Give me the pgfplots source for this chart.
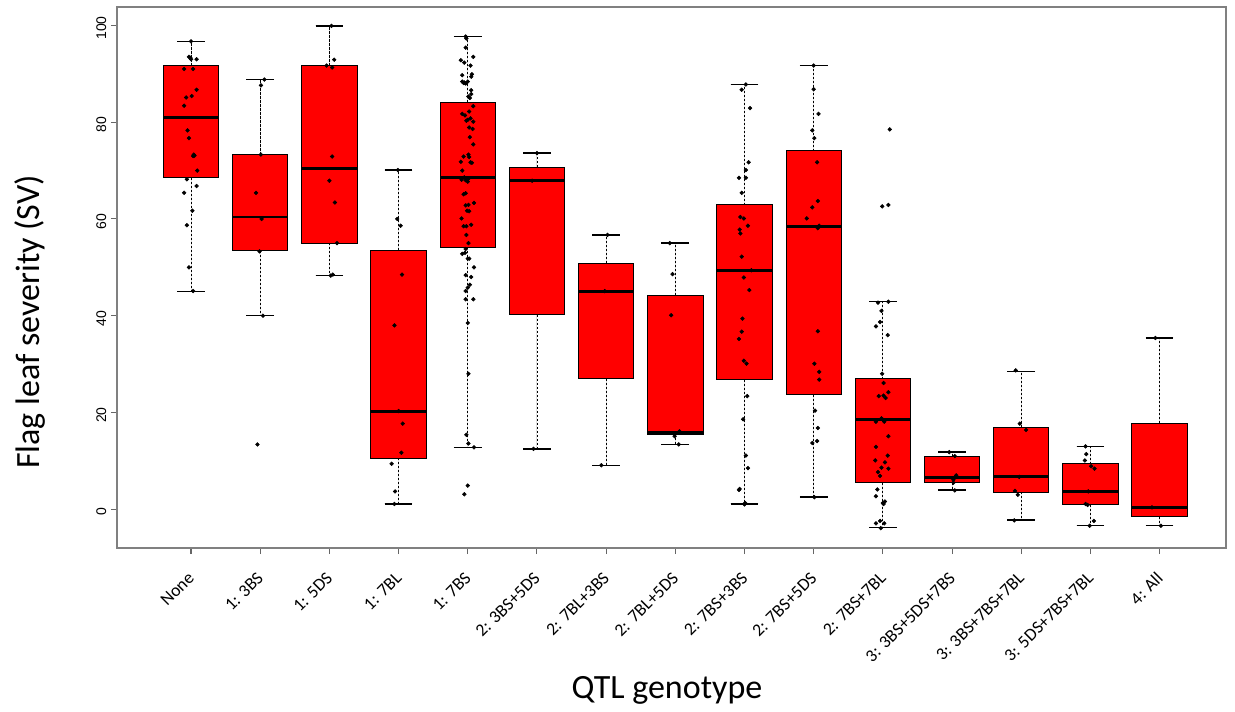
\documentclass[border=0pt]{standalone}
\usepackage{pgfplots}
\pgfplotsset{compat=1.18}
\usepgfplotslibrary{statistics}
\usepackage{pgfplotstable}
\usepackage{fontspec}
\setmainfont{Carlito}
\newfontfamily\arialfont{Liberation Sans}

% Individual lines: x = genotype position + horizontal jitter, y = severity
\pgfplotstableread{
x y
% None
0.00 96.7
-0.03 93.5
-0.01 93.3
0.00 93.0
0.08 93.0
-0.10 91.0
0.03 91.0
0.08 86.7
-0.07 85.1
0.01 85.4
-0.10 83.4
-0.05 78.3
-0.03 76.7
0.04 73.3
0.05 73.1
0.03 73.0
0.09 70.0
-0.06 68.2
0.08 66.8
-0.10 65.4
0.02 61.7
-0.06 58.7
-0.03 50.0
0.03 45.1
% 1: 3BS
1.06 88.8
1.01 87.6
1.01 73.3
0.94 65.4
1.02 60.0
0.99 53.3
1.04 40.0
0.96 13.4
% 1: 5DS
2.03 99.9
2.07 92.9
1.96 91.7
2.04 91.3
2.04 72.9
2.00 67.9
2.08 63.4
2.11 55.0
2.02 48.3
2.05 48.5
% 1: 7BL
2.99 70.1
2.98 60.0
3.03 58.6
3.05 48.5
2.94 38.0
3.00 20.3
3.06 17.7
3.04 11.7
2.90 9.4
2.95 3.7
2.94 1.1
% 1: 7BS
3.97 97.7
3.98 97.3
3.97 95.4
3.90 92.8
3.95 92.3
4.08 93.5
4.04 91.7
3.92 89.7
4.06 89.9
4.05 89.4
3.92 88.4
3.95 88.2
3.97 88.0
4.00 88.4
3.94 88.1
4.05 86.6
4.05 85.8
4.01 85.3
4.03 85.0
4.08 83.3
3.92 81.7
3.96 81.4
4.02 82.2
3.98 80.3
4.00 80.5
4.04 80.8
4.08 80.1
4.02 78.9
4.07 78.6
4.03 76.9
4.08 75.4
3.94 72.9
4.01 73.3
4.02 72.8
3.90 71.8
4.04 71.7
4.06 71.6
3.92 70.0
3.91 68.1
3.97 68.0
4.00 67.7
4.01 68.3
3.95 68.6
3.94 65.1
3.97 65.3
4.09 63.3
3.97 62.8
4.01 62.9
3.99 61.7
4.02 61.6
3.91 60.1
3.94 58.5
3.98 58.5
4.05 58.8
3.98 56.7
4.01 55.0
3.97 53.8
3.92 52.8
3.96 53.0
4.00 51.8
4.02 51.8
4.09 50.0
3.97 48.4
4.05 48.0
4.03 46.4
3.97 45.1
4.00 45.8
3.97 43.4
4.08 43.4
4.00 38.5
4.01 28.0
3.98 15.4
4.01 13.6
4.09 12.8
4.00 4.9
3.95 3.1
% 2: 3BS+5DS
5.00 73.6
4.93 67.9
4.95 12.5
% 2: 7BL+3BS
6.02 56.7
5.98 45.1
5.93 9.1
% 2: 7BL+5DS
6.92 55.0
6.96 48.6
6.94 40.1
7.06 16.1
6.99 15.1
7.05 13.4
% 2: 7BS+3BS
8.02 87.8
7.96 86.7
8.08 82.9
8.06 71.7
8.02 70.1
7.92 68.5
8.02 68.5
7.96 65.4
7.94 60.4
7.99 60.1
8.05 58.6
7.93 57.8
7.94 57.0
7.96 52.2
8.10 49.4
7.99 47.9
8.07 45.3
7.97 39.4
7.96 36.7
7.92 35.2
7.99 30.7
8.03 30.1
8.04 23.4
7.98 18.6
8.02 11.1
8.05 8.5
7.92 4.0
7.93 4.2
8.00 1.0
8.01 1.3
% 2: 7BS+5DS
9.00 91.7
9.00 86.8
9.07 81.7
8.98 78.3
9.01 76.7
9.05 71.7
9.06 63.7
8.98 62.4
8.90 60.1
9.08 58.6
9.06 58.1
9.06 36.8
9.01 30.1
9.08 28.4
9.08 26.8
9.02 20.4
9.06 16.8
8.98 13.7
9.05 14.1
9.01 2.5
% 2: 7BS+7BL
10.10 78.5
9.99 62.6
10.08 62.9
9.93 42.7
10.08 42.9
9.98 41.0
9.96 38.7
9.90 37.8
10.07 36.0
9.99 28.0
10.01 26.1
9.94 23.4
10.01 23.5
10.04 23.0
10.08 24.2
9.98 18.8
10.00 18.5
10.02 18.1
9.90 18.1
10.08 15.1
9.90 12.9
10.07 11.1
9.89 10.1
10.03 9.7
9.98 8.6
10.08 8.4
9.93 7.7
9.96 6.9
9.92 4.1
9.90 2.7
10.00 1.3
10.03 1.6
10.01 1.1
9.90 -2.9
9.96 -2.4
10.02 -2.9
9.97 -3.9
% 3: 3BS+5DS+7BS
10.96 11.8
11.04 11.0
11.06 7.0
11.02 6.1
11.02 5.5
11.04 3.9
% 3: 3BS+7BS+7BL
11.92 28.7
11.98 17.7
12.07 16.4
11.97 6.7
11.91 3.8
11.95 3.0
11.90 -2.3
% 3: 5DS+7BS+7BL
12.93 13.0
12.94 11.4
12.92 10.1
13.01 8.9
13.06 8.4
12.97 3.7
12.93 1.1
12.96 0.9
13.05 -2.4
12.99 -3.4
% 4: All
13.94 35.4
13.89 0.4
14.02 -3.4
}\obs

\tikzset{
  whiskerline/.style={black, line width=0.6pt, dash pattern=on 1.6pt off 1.4pt},
  capline/.style={black, line width=1.1pt, solid},
}

% vertical boxes, dashed whisker stems, solid caps
\pgfplotsset{
  boxplot/draw direction=y,
  boxplot/draw/lower whisker/.code={%
    \draw[whiskerline]
      (boxplot box cs:\pgfplotsboxplotvalue{lower quartile},0.5) --
      (boxplot box cs:\pgfplotsboxplotvalue{lower whisker},0.5);
    \draw[capline]
      (boxplot whisker cs:\pgfplotsboxplotvalue{lower whisker},0) --
      (boxplot whisker cs:\pgfplotsboxplotvalue{lower whisker},1);
  },
  boxplot/draw/upper whisker/.code={%
    \draw[whiskerline]
      (boxplot box cs:\pgfplotsboxplotvalue{upper quartile},0.5) --
      (boxplot box cs:\pgfplotsboxplotvalue{upper whisker},0.5);
    \draw[capline]
      (boxplot whisker cs:\pgfplotsboxplotvalue{upper whisker},0) --
      (boxplot whisker cs:\pgfplotsboxplotvalue{upper whisker},1);
  },
  boxplot/every median/.style={line width=2.2pt, black},
  gbox/.style={draw=black, fill=red, line width=0.7pt},
}

\begin{document}
\begin{tikzpicture}
\begin{axis}[
  at={(0,0)}, anchor=south west,
  scale only axis, width=831.75pt, height=405.75pt,
  xmin=-1.07, xmax=14.96, ymin=-8, ymax=103.8,
  xtick={0,...,14},
  xticklabels={None,1: 3BS,1: 5DS,1: 7BL,1: 7BS,2: 3BS+5DS,2: 7BL+3BS,2: 7BL+5DS,2: 7BS+3BS,2: 7BS+5DS,2: 7BS+7BL,3: 3BS+5DS+7BS,3: 3BS+7BS+7BL,3: 5DS+7BS+7BL,4: All},
  ytick={0,20,40,60,80,100},
  yticklabels={0,20,40,60,80,100},
  tick align=outside, tick pos=left,
  major tick length=4.5pt,
  axis line style={draw=black!50, line width=1.1pt},
  every tick/.style={black!60, line width=0.8pt},
  xticklabel style={font=\fontsize{13.3}{15}\selectfont, xshift=2.5pt, yshift=-13.5pt, rotate=45, anchor=east},
  yticklabel style={font=\arialfont\fontsize{10.5}{12}\selectfont, rotate=90, anchor=south, xshift=-2pt},
  boxplot/box extend=0.8,
  boxplot/whisker extend=0.4,
  clip=false,
]
\addplot[gbox, boxplot prepared={draw position=0,  lower whisker=45.0, lower quartile=68.5, median=80.9, upper quartile=91.7, upper whisker=96.7}] coordinates {};
\addplot[gbox, boxplot prepared={draw position=1,  lower whisker=40.1, lower quartile=53.4, median=60.4, upper quartile=73.3, upper whisker=88.8}] coordinates {};
\addplot[gbox, boxplot prepared={draw position=2,  lower whisker=48.3, lower quartile=55.0, median=70.4, upper quartile=91.7, upper whisker=99.9}] coordinates {};
\addplot[gbox, boxplot prepared={draw position=3,  lower whisker=1.1,  lower quartile=10.6, median=20.3, upper quartile=53.5, upper whisker=70.1}] coordinates {};
\addplot[gbox, boxplot prepared={draw position=4,  lower whisker=12.8, lower quartile=54.2, median=68.5, upper quartile=84.1, upper whisker=97.7}] coordinates {};
\addplot[gbox, boxplot prepared={draw position=5,  lower whisker=12.5, lower quartile=40.2, median=67.9, upper quartile=70.7, upper whisker=73.6}] coordinates {};
\addplot[gbox, boxplot prepared={draw position=6,  lower whisker=9.1,  lower quartile=27.0, median=45.1, upper quartile=50.9, upper whisker=56.7}] coordinates {};
\addplot[gbox, boxplot prepared={draw position=7,  lower whisker=13.4, lower quartile=15.5, median=15.9, upper quartile=44.2, upper whisker=55.0}] coordinates {};
\addplot[gbox, boxplot prepared={draw position=8,  lower whisker=1.1,  lower quartile=26.8, median=49.4, upper quartile=62.9, upper whisker=87.8}] coordinates {};
\addplot[gbox, boxplot prepared={draw position=9,  lower whisker=2.5,  lower quartile=23.7, median=58.4, upper quartile=74.1, upper whisker=91.7}] coordinates {};
\addplot[gbox, boxplot prepared={draw position=10, lower whisker=-3.8, lower quartile=5.5,  median=18.6, upper quartile=27.0, upper whisker=42.9}] coordinates {};
\addplot[gbox, boxplot prepared={draw position=11, lower whisker=4.0,  lower quartile=5.5,  median=6.6,  upper quartile=10.9, upper whisker=11.8}] coordinates {};
\addplot[gbox, boxplot prepared={draw position=12, lower whisker=-2.2, lower quartile=3.5,  median=6.7,  upper quartile=17.0, upper whisker=28.5}] coordinates {};
\addplot[gbox, boxplot prepared={draw position=13, lower whisker=-3.4, lower quartile=0.9,  median=3.7,  upper quartile=9.4,  upper whisker=13.0}] coordinates {};
\addplot[gbox, boxplot prepared={draw position=14, lower whisker=-3.4, lower quartile=-1.5, median=0.4,  upper quartile=17.8, upper whisker=35.4}] coordinates {};
% observations
\addplot[only marks, mark=*, mark size=1.4pt, black] table[x=x, y=y] {\obs};
\end{axis}
\node[rotate=90, font=\fontsize{25.5}{30}\selectfont] at (-65.25pt,169.5pt) {Flag leaf severity (SV)};
\node[font=\fontsize{25.5}{30}\selectfont] at (412.5pt,-106.5pt) {QTL genotype};
\pgfresetboundingbox
\path[use as bounding box] (-87.75pt,-122.25pt) rectangle (838.5pt,411pt);
\end{tikzpicture}
\end{document}
